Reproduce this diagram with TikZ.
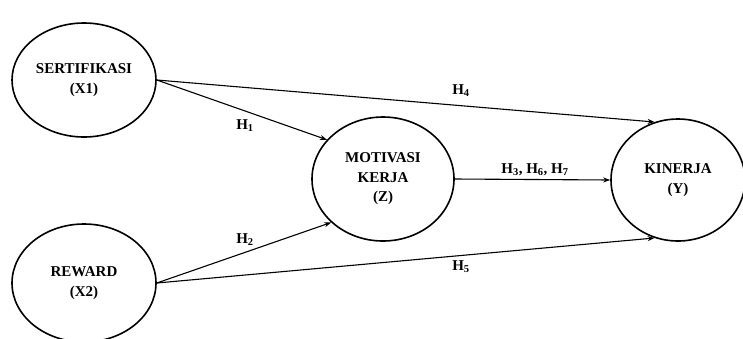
\documentclass[tikz,border=0pt]{standalone}
\usepackage{fontspec}
\setmainfont{Liberation Serif}
\usetikzlibrary{shapes.geometric,arrows.meta}
\begin{document}
\begin{tikzpicture}[x=1pt,y=-1pt,
  var/.style={ellipse,draw,line width=1.6pt,inner sep=0pt,align=center,
    font=\fontsize{15}{19.5}\selectfont\bfseries},
  path/.style={line width=1.1pt,-{Stealth[length=7pt,width=5pt]}},
  hyp/.style={font=\fontsize{15}{17}\selectfont\bfseries,inner sep=1pt}]
\useasboundingbox (0,0) rectangle (743,338);
\node[var,minimum width=144pt,minimum height=114pt] (x1) at (84,80) {SERTIFIKASI\\(X1)};
\node[var,minimum width=144pt,minimum height=118pt] (x2) at (84,283) {REWARD\\(X2)};
\node[var,minimum width=142pt,minimum height=124pt] (z) at (383,179) {MOTIVASI\\KERJA\\(Z)};
\node[var,minimum width=134pt,minimum height=122pt] (y) at (678,180) {KINERJA\\(Y)};
\draw[path] (x1.east) -- (z.145);
\draw[path] (x1.east) -- (y.112);
\draw[path] (x2.east) -- (z.220);
\draw[path] (x2.east) -- (y.248);
\draw[path] (z.east) -- (y.west);
\node[hyp] (h1) at (245,126) {H$_{\mathbf 1}$};
\node[hyp] (h2) at (245,240) {H$_{\mathbf 2}$};
\node[hyp] (h4) at (461,91) {H$_{\mathbf 4}$};
\node[hyp] (h5) at (461,267) {H$_{\mathbf 5}$};
\node[hyp] (h367) at (535,170) {H$_{\mathbf 3}$, H$_{\mathbf 6}$, H$_{\mathbf 7}$};
\end{tikzpicture}
\end{document}
